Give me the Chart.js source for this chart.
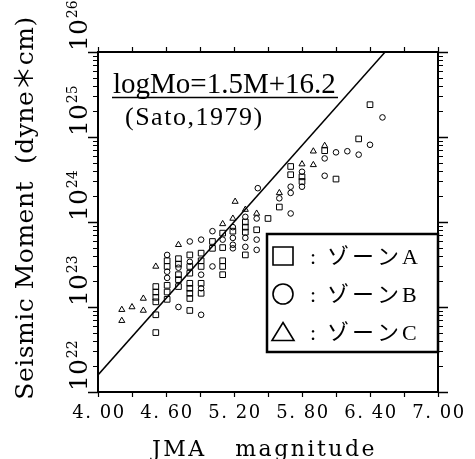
<!DOCTYPE html>
<html>
<head>
<meta charset="utf-8">
<script src="https://cdn.jsdelivr.net/npm/chart.js@4.4.1/dist/chart.umd.min.js"></script>
<style>
  html, body { margin: 0; padding: 0; background: #fff; }
  #chart { display: block; }
</style>
</head>
<body>
<canvas id="chart" width="475" height="459"></canvas>
<script>
// Axis ranges and tick labels
const magnitudeMin = 4.0;
const magnitudeMax = 7.0;
const momentMin = 1e22;
const momentMax = 1e26;
const xTickValues = [4.0, 4.3, 4.6, 4.9, 5.2, 5.5, 5.8, 6.1, 6.4, 6.7, 7.0];
const xLabelValues = [4.0, 4.6, 5.2, 5.8, 6.4, 7.0];
const xLabelTexts = ['4. 00', '4. 60', '5. 20', '5. 80', '6. 40', '7. 00'];
const yDecadeExponents = [22, 23, 24, 25, 26];
const yMinorMultipliers = [2, 3, 4, 5, 6, 7, 8, 9];

// Titles and annotation
const xTitle = 'JMA   magnitude';
const yTitle = 'Seismic Moment  (dyne\uFF0Acm)';
const equationText = 'logMo=1.5M+16.2';
const citationText = '(Sato,1979)';
const zoneLabels = ['\u30be\u30fc\u30f3A', '\u30be\u30fc\u30f3B', '\u30be\u30fc\u30f3C'];

// Empirical relation logMo = 1.5M + 16.2
const satoSlope = 1.5;
const satoIntercept = 16.2;

// Zone A events (squares)
const zoneAMagnitude = [6.40, 6.30, 6.00, 5.70, 5.70, 5.80, 5.80, 6.10, 5.60, 5.30,
  5.30, 5.30, 5.30, 5.40, 5.50, 5.19, 5.10, 5.10, 5.10, 5.10,
  5.10, 5.01, 5.01, 4.91, 4.91, 4.91, 4.91, 4.91, 4.81, 4.81,
  4.81, 4.81, 4.81, 4.81, 4.81, 4.81, 4.71, 4.71, 4.71, 4.71,
  4.71, 4.61, 4.61, 4.61, 4.61, 4.61, 4.51, 4.51, 4.51, 4.51,
  4.51, 4.51];
const zoneAMoment = [2.4e25, 9.5e24, 6.9e24, 4.5e24, 3.6e24, 3.4e24, 3.0e24, 3.2e24, 1.5e24, 1.0e24,
  8.7e23, 7.6e23, 4.1e23, 8.1e23, 1.1e24, 7.8e23, 7.4e23, 5.0e23, 3.5e23, 3.0e23,
  2.4e23, 5.9e23, 4.9e23, 4.3e23, 3.5e23, 3.0e23, 1.9e23, 1.45e23, 4.1e23, 3.0e23,
  2.5e23, 1.9e23, 1.66e23, 1.45e23, 1.26e23, 9.1e22, 3.7e23, 3.2e23, 2.4e23, 2.1e23,
  1.74e23, 3.5e23, 3.0e23, 1.8e23, 1.5e23, 1.23e23, 1.74e23, 1.5e23, 1.3e23, 1.15e23,
  8.1e22, 5.0e22];

// Zone B events (circles)
const zoneBMagnitude = [6.51, 6.40, 6.30, 6.20, 6.10, 6.00, 5.80, 5.80, 6.00, 5.70,
  5.70, 5.41, 5.60, 5.70, 5.30, 5.30, 5.30, 5.40, 5.40, 5.40,
  5.19, 5.19, 5.19, 5.19, 5.10, 5.01, 5.01, 4.91, 4.91, 4.91,
  4.91, 4.81, 4.81, 4.71, 4.71, 4.61, 4.61, 4.61];
const zoneBMoment = [1.7e25, 8.1e24, 6.2e24, 6.8e24, 6.6e24, 5.6e24, 3.9e24, 2.6e24, 3.5e24, 2.6e24,
  2.2e24, 2.5e24, 1.9e24, 1.26e24, 1.15e24, 6.5e23, 5.1e23, 1.1e24, 6.2e23, 4.7e23,
  8.7e23, 6.5e23, 5.4e23, 4.9e23, 6.2e23, 7.8e23, 3.0e23, 6.2e23, 2.4e23, 1.66e23,
  8.1e22, 5.9e23, 3.4e23, 2.9e23, 1.0e23, 4.1e23, 2.6e23, 2.2e23];

// Zone C events (triangles)
const zoneCMagnitude = [6.00, 5.90, 5.90, 5.80, 5.60, 5.21, 5.30, 5.40, 5.19, 5.10,
  4.71, 4.51, 4.40, 4.40, 4.30, 4.21, 4.21];
const zoneCMoment = [7.9e24, 6.8e24, 4.7e24, 4.8e24, 2.2e24, 1.74e24, 1.4e24, 1.26e24, 1.1e24, 9.5e23,
  5.4e23, 3.0e23, 1.26e23, 9.1e22, 1.0e23, 9.3e22, 6.9e22];

const toPoints = (mags, moments) => mags.map((m, i) => ({ x: m, y: moments[i] }));

// Relation line from the left edge to where it leaves the top of the plot
const satoEndMagnitude = Math.min(magnitudeMax, (Math.log10(momentMax) - satoIntercept) / satoSlope);
const satoLine = [magnitudeMin, satoEndMagnitude].map(m => ({ x: m, y: Math.pow(10, satoSlope * m + satoIntercept) }));

const TIMES = '"Liberation Serif", serif';
const CENTURY = '"DejaVu Serif", serif';
const SERIF_CJK = '"Liberation Serif", "Noto Sans CJK JP", serif';
const CENTURY_CJK = '"DejaVu Serif", "Noto Sans CJK JP", serif';

function drawSymbol(ctx, style, cx, cy, r) {
  ctx.beginPath();
  if (style === 'rect') {
    ctx.rect(cx - r, cy - r * 0.9, 2 * r, 1.8 * r);
  } else if (style === 'circle') {
    ctx.arc(cx, cy, r, 0, Math.PI * 2);
  } else {
    ctx.moveTo(cx, cy - r * 0.95);
    ctx.lineTo(cx + r * 1.1, cy + r * 0.85);
    ctx.lineTo(cx - r * 1.1, cy + r * 0.85);
    ctx.closePath();
  }
  ctx.stroke();
}

const frameAndText = {
  id: 'frameAndText',
  afterDatasetsDraw(chart) {
    const { ctx, chartArea: a, scales: { x, y } } = chart;
    ctx.save();
    ctx.strokeStyle = '#000';
    ctx.fillStyle = '#000';

    // plot frame
    ctx.lineWidth = 2;
    ctx.strokeRect(a.left, a.top, a.right - a.left, a.bottom - a.top);

    // magnitude ticks, top and bottom
    ctx.lineWidth = 1.2;
    ctx.beginPath();
    xTickValues.forEach(v => {
      const px = Math.round(x.getPixelForValue(v)) + 0.5;
      ctx.moveTo(px, a.top); ctx.lineTo(px, a.top - 5);
      ctx.moveTo(px, a.bottom); ctx.lineTo(px, a.bottom + 5);
    });
    ctx.stroke();

    // moment ticks, left and right
    ctx.lineWidth = 1.4;
    ctx.beginPath();
    yDecadeExponents.forEach(e => {
      const py = Math.round(y.getPixelForValue(Math.pow(10, e))) + 0.5;
      ctx.moveTo(a.left - 10, py); ctx.lineTo(a.left, py);
      ctx.moveTo(a.right, py); ctx.lineTo(a.right + 10, py);
    });
    ctx.stroke();
    ctx.lineWidth = 1;
    ctx.beginPath();
    yDecadeExponents.slice(0, -1).forEach(e => {
      yMinorMultipliers.forEach(m => {
        const py = Math.round(y.getPixelForValue(m * Math.pow(10, e))) + 0.5;
        ctx.moveTo(a.left - 5, py); ctx.lineTo(a.left, py);
        ctx.moveTo(a.right, py); ctx.lineTo(a.right + 5, py);
      });
    });
    ctx.stroke();

    // magnitude labels
    ctx.font = '18px ' + CENTURY;
    ctx.letterSpacing = '1.5px';
    ctx.textAlign = 'center';
    ctx.textBaseline = 'alphabetic';
    xLabelValues.forEach((v, i) => {
      ctx.fillText(xLabelTexts[i], x.getPixelForValue(v) + 1, a.bottom + 26);
    });

    // moment labels, rotated, 10 with exponent
    ctx.letterSpacing = '0px';
    ctx.textAlign = 'left';
    yDecadeExponents.forEach(e => {
      const py = y.getPixelForValue(Math.pow(10, e));
      ctx.save();
      ctx.translate(a.left - 11, py);
      ctx.rotate(-Math.PI / 2);
      ctx.font = '25px ' + CENTURY;
      ctx.fillText('10', 1, 0);
      const w = ctx.measureText('10').width;
      ctx.font = '14px ' + CENTURY;
      ctx.fillText(String(e), 2 + w, -10);
      ctx.restore();
    });

    // axis titles
    ctx.save();
    ctx.font = '25px ' + CENTURY_CJK;
    ctx.letterSpacing = '0.5px';
    ctx.textAlign = 'center';
    ctx.translate(33, (a.top + a.bottom) / 2 - 14);
    ctx.rotate(-Math.PI / 2);
    ctx.fillText(yTitle, 0, 0);
    ctx.restore();

    ctx.font = '22px ' + CENTURY;
    ctx.letterSpacing = '2.5px';
    ctx.textAlign = 'left';
    ctx.fillText(xTitle, 152, a.bottom + 64);

    // relation annotation
    ctx.letterSpacing = '0px';
    ctx.font = '29px ' + TIMES;
    ctx.fillText(equationText, 113, a.top + 41);
    ctx.lineWidth = 1.5;
    ctx.beginPath();
    ctx.moveTo(112, a.top + 45.5); ctx.lineTo(338, a.top + 45.5);
    ctx.stroke();
    ctx.font = '26px ' + TIMES;
    ctx.letterSpacing = '1.5px';
    ctx.fillText(citationText, 125, a.top + 73);

    // zone legend
    const box = { left: 267, top: 234, right: a.right, bottom: 352 };
    ctx.fillStyle = '#fff';
    ctx.fillRect(box.left, box.top, box.right - box.left, box.bottom - box.top);
    ctx.fillStyle = '#000';
    ctx.lineWidth = 2.5;
    ctx.strokeRect(box.left, box.top, box.right - box.left, box.bottom - box.top);
    ctx.font = '22px ' + SERIF_CJK;
    ctx.letterSpacing = '3px';
    const rowStep = 38;
    chart.data.datasets.slice(0, 3).forEach((ds, i) => {
      const cy = 256 + i * rowStep;
      ctx.lineWidth = 1.6;
      drawSymbol(ctx, ds.pointStyle, 283, cy, 10);
      ctx.fillText(':', 310, cy + 8);
      ctx.fillText(ds.label, 327, cy + 8);
    });
    ctx.restore();
  }
};

new Chart(document.getElementById('chart'), {
  type: 'scatter',
  data: {
    datasets: [
      { label: zoneLabels[0], data: toPoints(zoneAMagnitude, zoneAMoment), pointStyle: 'rect',
        pointRadius: 4, borderColor: '#000', borderWidth: 1, backgroundColor: 'rgba(0,0,0,0)' },
      { label: zoneLabels[1], data: toPoints(zoneBMagnitude, zoneBMoment), pointStyle: 'circle',
        pointRadius: 2.8, borderColor: '#000', borderWidth: 1, backgroundColor: 'rgba(0,0,0,0)' },
      { label: zoneLabels[2], data: toPoints(zoneCMagnitude, zoneCMoment), pointStyle: 'triangle',
        pointRadius: 3.5, borderColor: '#000', borderWidth: 1, backgroundColor: 'rgba(0,0,0,0)' },
      { label: equationText, data: satoLine, showLine: true, pointRadius: 0,
        borderColor: '#000', borderWidth: 1.5, backgroundColor: 'rgba(0,0,0,0)' }
    ]
  },
  options: {
    responsive: false,
    animation: false,
    devicePixelRatio: 1,
    layout: { padding: { left: 98, top: 52, right: 37, bottom: 67 } },
    scales: {
      x: { type: 'linear', min: magnitudeMin, max: magnitudeMax, display: false },
      y: { type: 'logarithmic', min: momentMin, max: momentMax, display: false }
    },
    plugins: { legend: { display: false }, tooltip: { enabled: false } }
  },
  plugins: [frameAndText]
});
</script>
</body>
</html>
